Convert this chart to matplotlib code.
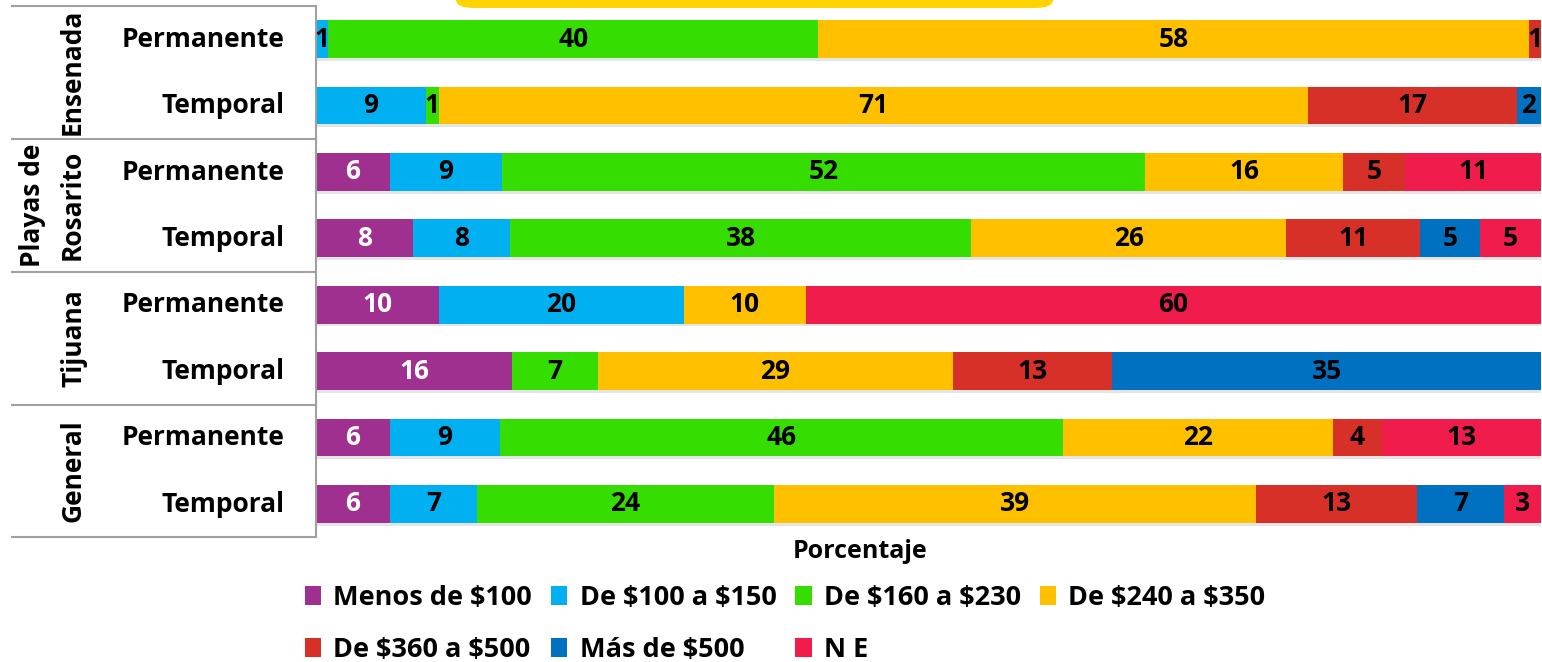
import matplotlib.pyplot as plt
import matplotlib.patheffects as pe
from matplotlib.patches import FancyBboxPatch, Patch
import numpy as np

# Datos (porcentajes por fila, en el orden de las categorías)
grupos = ['Ensenada', 'Playas de', 'Rosarito', 'Tijuana', 'General']
filas = ['Permanente', 'Temporal'] * 4
categorias = [r'Menos de \$100', r'De \$100 a \$150', r'De \$160 a \$230', r'De \$240 a \$350',
              r'De \$360 a \$500', r'Más de \$500', 'N E']
colores = ['#A0308F', '#00B0F0', '#35DD00', '#FFC000', '#D63028', '#0070C0', '#F01C4C']

menos_100 = [0, 0, 6, 8, 10, 16, 6, 6]
de_100_150 = [1, 9, 9, 8, 20, 0, 9, 7]
de_160_230 = [40, 1, 52, 38, 0, 7, 46, 24]
de_240_350 = [58, 71, 16, 26, 10, 29, 22, 39]
de_360_500 = [1, 17, 5, 11, 0, 13, 4, 13]
mas_500 = [0, 2, 0, 5, 0, 35, 0, 7]
ne = [0, 0, 11, 5, 60, 0, 13, 3]

series = np.array([menos_100, de_100_150, de_160_230, de_240_350, de_360_500, mas_500, ne], dtype=float)
totales = series.sum(axis=0)
pct = series / totales * 100  # barras al 100 %

plt.rcParams['font.family'] = ['Open Sans', 'DejaVu Sans']
plt.rcParams['font.weight'] = 'bold'

fig = plt.figure(figsize=(15.42, 6.62), dpi=100)
W, H = 1542, 662
ax = fig.add_axes([316 / W, 1 - 537 / H, 1225 / W, 531 / H])

y = np.arange(len(filas))
izq = np.zeros(len(filas))
sombra = [pe.SimplePatchShadow(offset=(0.5, -2), shadow_rgbFace='#999999', alpha=0.25), pe.Normal()]
for i, cat in enumerate(categorias):
    barras = ax.barh(y, pct[i], left=izq, height=0.57, color=colores[i], edgecolor='none')
    for b in barras:
        b.set_path_effects(sombra)
    for j in range(len(filas)):
        if series[i, j] > 0:
            ax.text(izq[j] + pct[i, j] / 2, y[j], f'{int(series[i, j])}', ha='center', va='center',
                    fontsize=19, fontweight='bold', color='white' if i == 0 else 'black')
    izq += pct[i]

ax.set_xlim(0, 100)
ax.set_ylim(len(filas) - 0.5, -0.5)
ax.set_xticks([])
ax.set_yticks([])
for s in ['top', 'right', 'bottom']:
    ax.spines[s].set_visible(False)
ax.spines['left'].set_color('#A0A0A0')
ax.spines['left'].set_linewidth(1.5)

# Tabla de etiquetas a la izquierda
for yl in [6, 139, 272, 405, 537]:
    fig.add_artist(plt.Line2D([12 / W, 316 / W], [1 - yl / H, 1 - yl / H], color='#A0A0A0', lw=1.5))
for j, fila in enumerate(filas):
    yc = 6 + 66.4 * (j + 0.5)
    fig.text(285 / W, 1 - yc / H, fila, ha='right', va='center', fontsize=19, fontweight='bold')
pos_grupos = [(72, 72), (33, 205), (72, 205), (74, 338), (73, 471)]
for g, (xg, yg) in zip(grupos, pos_grupos):
    fig.text(xg / W, 1 - yg / H, g, ha='center', va='center', rotation=90, fontsize=19,
             fontweight='bold')

# Recuadro amarillo (título recortado)
fig.add_artist(FancyBboxPatch((456 / W, 1 - 8 / H), 597 / W, 40 / H,
                              boxstyle='round,pad=0,rounding_size=0.012', transform=fig.transFigure,
                              facecolor='#FFD400', edgecolor='none'))

fig.text(860 / W, 1 - 551 / H, 'Porcentaje', ha='center', va='center', fontsize=18, fontweight='bold')

orden = [0, 4, 1, 5, 2, 6, 3]
handles = [Patch(facecolor=colores[i]) for i in orden]
labels = [categorias[i] for i in orden]
fig.legend(handles, labels, ncol=4, loc='upper left', bbox_to_anchor=(286 / W, 1 - 566 / H),
           frameon=False, handlelength=0.6, handleheight=0.7, handletextpad=0.45,
           columnspacing=0.7, labelspacing=0.95, borderpad=0.2,
           prop={'family': ['Open Sans', 'DejaVu Sans'], 'weight': 'bold', 'size': 19.5})

fig.savefig('out.png', dpi=100)
